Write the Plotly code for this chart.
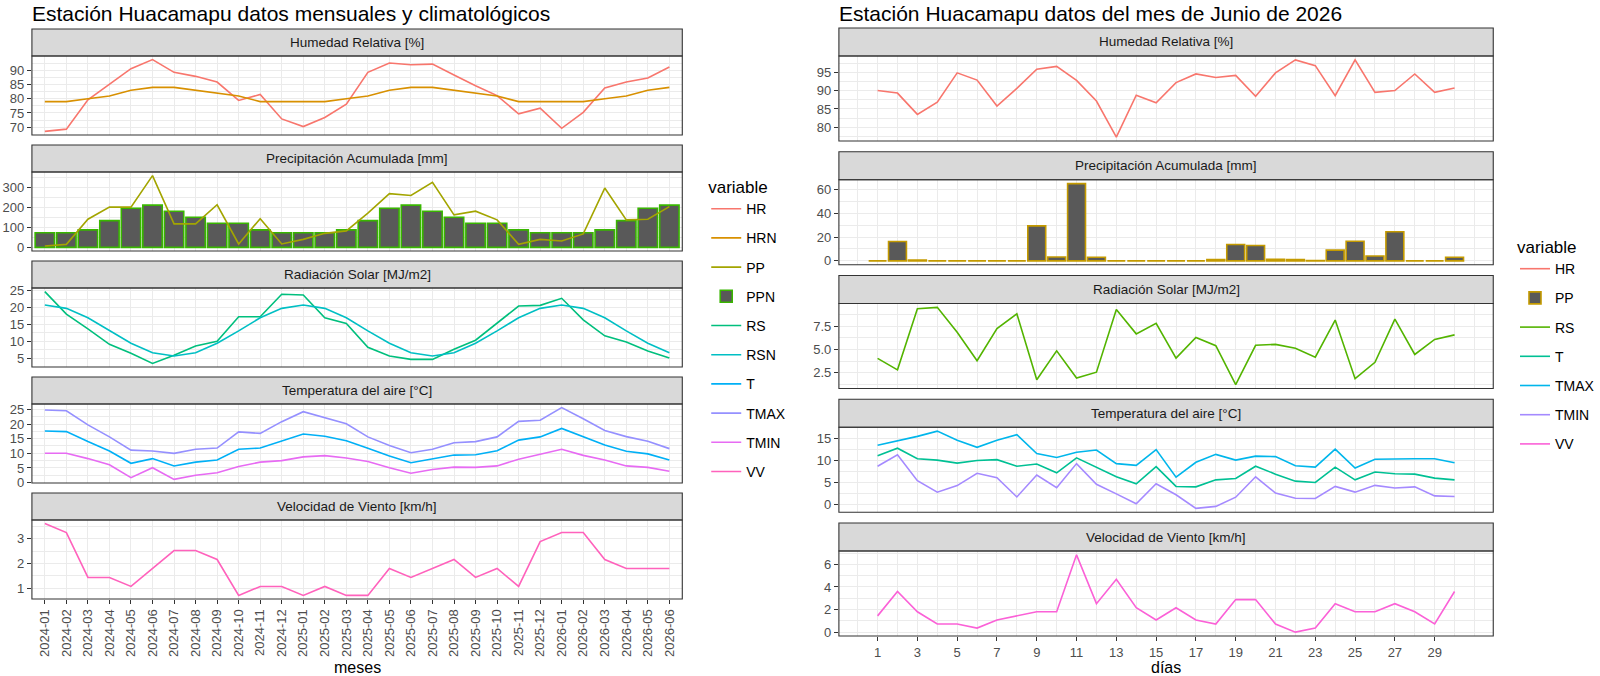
import plotly.graph_objects as go

W, H = 1600, 676

# ---------------- DATA: monthly / climatology ----------------
months = ["2024-01", "2024-02", "2024-03", "2024-04", "2024-05", "2024-06",
          "2024-07", "2024-08", "2024-09", "2024-10", "2024-11", "2024-12",
          "2025-01", "2025-02", "2025-03", "2025-04", "2025-05", "2025-06",
          "2025-07", "2025-08", "2025-09", "2025-10", "2025-11", "2025-12",
          "2026-01", "2026-02", "2026-03", "2026-04", "2026-05", "2026-06"]

HR_m = [68.5, 69.3, 79.6, 85.2, 90.6, 93.8, 89.3, 87.9, 85.9, 79.4, 81.5, 72.9,
        70.2, 73.4, 78.1, 89.3, 92.6, 92.0, 92.2, 88.4, 84.6, 81.1, 74.7, 76.7,
        69.6, 75.2, 83.8, 85.9, 87.3, 91.2]
HRN_m = [79, 79, 80, 81, 83, 84, 84, 83, 82, 81, 79, 79,
         79, 79, 80, 81, 83, 84, 84, 83, 82, 81, 79, 79,
         79, 79, 80, 81, 83, 84]
PP_m = [7, 15, 140, 200, 200, 357, 117, 117, 212, 17, 143, 17,
        40, 70, 82, 170, 267, 258, 323, 162, 180, 137, 15, 40,
        32, 67, 295, 137, 140, 203]
PPN_m = [73, 73, 87, 133, 195, 210, 180, 150, 120, 120, 87, 73,
         73, 73, 87, 133, 195, 210, 180, 150, 120, 120, 87, 73,
         73, 73, 87, 133, 195, 210]
RS_m = [24.8, 18.1, 13.7, 9.1, 6.4, 3.4, 5.8, 8.6, 10.0, 17.3, 17.3, 24.0,
        23.8, 17.0, 15.3, 8.2, 5.6, 4.6, 4.6, 7.6, 10.3, 15.4, 20.5, 20.7,
        22.8, 16.4, 11.6, 9.8, 7.1, 5.0]
RSN_m = [20.8, 19.8, 17.0, 13.1, 9.4, 6.6, 5.6, 6.6, 9.4, 13.1, 17.0, 19.8,
         20.8, 19.8, 17.0, 13.1, 9.4, 6.6, 5.6, 6.6, 9.4, 13.1, 17.0, 19.8,
         20.8, 19.8, 17.0, 13.1, 9.4, 6.6]
T_m = [17.6, 17.4, 14.0, 10.8, 6.6, 8.2, 5.7, 7.0, 7.7, 11.4, 11.8, 14.2,
       16.6, 15.8, 14.3, 11.7, 9.1, 6.8, 8.2, 9.4, 9.5, 10.9, 14.5, 15.6,
       18.5, 15.6, 12.8, 10.7, 9.8, 7.7]
TMAX_m = [24.8, 24.5, 19.7, 15.6, 11.1, 10.8, 10.0, 11.4, 11.8, 17.3, 16.8, 20.8,
          24.2, 22.2, 20.1, 15.6, 12.7, 10.2, 11.4, 13.6, 14.0, 15.6, 20.9, 21.3,
          25.6, 21.8, 17.8, 15.7, 14.1, 11.6]
TMIN_m = [10.0, 10.0, 8.2, 6.1, 1.7, 5.1, 1.1, 2.5, 3.4, 5.5, 7.0, 7.5,
          8.8, 9.2, 8.4, 7.2, 5.1, 3.2, 4.5, 5.3, 5.2, 5.7, 8.0, 9.7,
          11.4, 9.3, 7.7, 5.7, 5.2, 3.9]
VV_m = [3.6, 3.24, 1.44, 1.44, 1.08, 1.8, 2.52, 2.52, 2.16, 0.72, 1.08, 1.08,
        0.72, 1.08, 0.72, 0.72, 1.8, 1.44, 1.8, 2.16, 1.44, 1.8, 1.08, 2.88,
        3.24, 3.24, 2.16, 1.8, 1.8, 1.8]

# ---------------- DATA: daily June 2026 ----------------
days = list(range(1, 31))
HR_d = [90.1, 89.4, 83.5, 86.9, 95.0, 93.0, 85.8, 90.7, 96.0, 96.8,
        92.9, 87.2, 77.2, 88.8, 86.7, 92.3, 94.7, 93.7, 94.3, 88.5,
        95.0, 98.6, 97.0, 88.7, 98.6, 89.6, 90.1, 94.7, 89.6, 90.8]
PP_d = [0, 16.2, 0.8, 0, 0, 0, 0, 0, 29.3, 3.3,
        64.7, 3.0, 0, 0, 0, 0, 0, 1.1, 13.7, 12.9,
        1.4, 1.1, 0.3, 9.0, 16.4, 4.1, 24.4, 0, 0, 3.0]
RS_d = [4.05, 2.82, 9.40, 9.54, 6.87, 3.80, 7.25, 8.84, 1.76, 4.86,
        1.94, 2.57, 9.30, 6.69, 7.82, 4.08, 6.30, 5.42, 1.23, 5.46,
        5.56, 5.14, 4.19, 8.17, 1.87, 3.63, 8.27, 4.47, 6.09, 6.58]
T_d = [11.1, 12.8, 10.4, 10.1, 9.4, 10.0, 10.2, 8.7, 9.2, 7.2,
       10.6, 8.4, 6.3, 4.7, 8.6, 4.1, 4.0, 5.6, 5.9, 8.7,
       6.9, 5.3, 5.0, 8.5, 5.6, 7.4, 7.0, 6.9, 6.0, 5.6]
TMAX_d = [13.5, 14.5, 15.5, 16.7, 14.6, 13.0, 14.6, 15.9, 11.6, 10.7,
          11.9, 12.4, 9.3, 8.9, 12.5, 6.2, 9.6, 11.4, 10.1, 11.0,
          10.9, 8.8, 8.5, 12.6, 8.3, 10.3, 10.4, 10.4, 10.4, 9.5]
TMIN_d = [8.7, 11.3, 5.4, 2.8, 4.3, 7.1, 6.1, 1.7, 6.7, 3.8,
          9.3, 4.6, 2.4, 0.15, 4.7, 2.2, -0.9, -0.45, 1.65, 6.3,
          2.6, 1.4, 1.35, 4.1, 2.8, 4.35, 3.75, 4.0, 1.95, 1.8]
VV_d = [1.44, 3.6, 1.8, 0.72, 0.72, 0.36, 1.08, 1.44, 1.8, 1.8,
        6.84, 2.52, 4.68, 2.16, 1.08, 2.16, 1.08, 0.72, 2.88, 2.88,
        0.72, 0.0, 0.36, 2.52, 1.8, 1.8, 2.52, 1.8, 0.72, 3.6]

# tick labels
day_ticks = list(range(1, 30, 2))

facet_titles = ["Humedad Relativa [%]", "Precipitación Acumulada [mm]",
                "Radiación Solar [MJ/m2]", "Temperatura del aire [°C]",
                "Velocidad de Viento [km/h]"]
title_left = "Estación Huacamapu datos mensuales y climatológicos"
title_right = "Estación Huacamapu datos del mes de Junio de 2026"

left_ticks = [[70, 75, 80, 85, 90], [0, 100, 200, 300], [5, 10, 15, 20, 25],
              [0, 5, 10, 15, 20, 25], [1, 2, 3]]
right_ticks = [[80, 85, 90, 95], [0, 20, 40, 60], [2.5, 5.0, 7.5],
               [0, 5, 10, 15], [0, 2, 4, 6]]
right_ticktext = [None, None, ["2.5", "5.0", "7.5"], None, None]

# ggplot hue colours
CL = {"HR": "#F8766D", "HRN": "#D89000", "PP": "#A3A500", "PPN": "#39B600",
      "RS": "#00BF7D", "RSN": "#00BFC4", "T": "#00B0F6", "TMAX": "#9590FF",
      "TMIN": "#E76BF3", "VV": "#FF62BC"}
CR = {"HR": "#F8766D", "PP": "#C49A00", "RS": "#53B400", "T": "#00C094",
      "TMAX": "#00B6EB", "TMIN": "#A58AFF", "VV": "#FB61D7"}

FONT = "Liberation Sans, Arial, sans-serif"
GRID = "#EBEBEB"
BORDER = "#333333"
TICKC = "#4D4D4D"
TICK_SIZE = 13

# ---------------- layout geometry (pixels) ----------------
LX = (32, 684)
RX = (841, 1497)
L_strip_top = [29 + 116 * i for i in range(5)]
L_strip_h, L_panel_h = 27, 79
R_strip_top = [28 + 123.75 * i for i in range(5)]
R_strip_h, R_panel_h = 28, 85


def fx(p):
    return p / W


def fy(p):
    return 1 - p / H


def expand(vals, include_zero=False, frac=0.05):
    lo, hi = min(vals), max(vals)
    if include_zero:
        lo = min(lo, 0)
    d = (hi - lo) * frac
    return [lo - d, hi + d]


def minor_vals(ticks, rng):
    step = ticks[1] - ticks[0]
    out = []
    v = ticks[0] - step * 3
    while v <= rng[1] + step:
        m = v + step / 2
        if rng[0] <= m <= rng[1]:
            out.append(m)
        if rng[0] <= v <= rng[1]:
            out.append(v)
        v += step
    return out


fig = go.Figure()


def add_line(x, y, name, color, k, legend, rank, show=True):
    fig.add_trace(go.Scatter(
        x=x, y=y, mode="lines", name=name, line=dict(color=color, width=1.6),
        xaxis="x%d" % k, yaxis="y%d" % k, legend=legend, legendgroup=legend + name,
        legendrank=rank, showlegend=show))


# ---------------- traces: left ----------------
add_line(months, HR_m, "HR", CL["HR"], 1, "legend", 1)
add_line(months, HRN_m, "HRN", CL["HRN"], 1, "legend", 2)
fig.add_trace(go.Bar(x=months, y=PPN_m, name="PPN", width=0.9,
                     marker=dict(color="#595959", line=dict(color=CL["PPN"], width=1.6)),
                     xaxis="x2", yaxis="y2", legend="legend", legendgroup="legendPPN",
                     legendrank=4))
add_line(months, PP_m, "PP", CL["PP"], 2, "legend", 3)
add_line(months, RS_m, "RS", CL["RS"], 3, "legend", 5)
add_line(months, RSN_m, "RSN", CL["RSN"], 3, "legend", 6)
add_line(months, T_m, "T", CL["T"], 4, "legend", 7)
add_line(months, TMAX_m, "TMAX", CL["TMAX"], 4, "legend", 8)
add_line(months, TMIN_m, "TMIN", CL["TMIN"], 4, "legend", 9)
add_line(months, VV_m, "VV", CL["VV"], 5, "legend", 10)

# ---------------- traces: right ----------------
add_line(days, HR_d, "HR", CR["HR"], 6, "legend2", 1)
fig.add_trace(go.Bar(x=days, y=PP_d, name="PP", width=0.9,
                     marker=dict(color="#595959", line=dict(color=CR["PP"], width=1.6)),
                     xaxis="x7", yaxis="y7", legend="legend2", legendgroup="legend2PP",
                     legendrank=2))
add_line(days, RS_d, "RS", CR["RS"], 8, "legend2", 3)
add_line(days, T_d, "T", CR["T"], 9, "legend2", 4)
add_line(days, TMAX_d, "TMAX", CR["TMAX"], 9, "legend2", 5)
add_line(days, TMIN_d, "TMIN", CR["TMIN"], 9, "legend2", 6)
add_line(days, VV_d, "VV", CR["VV"], 10, "legend2", 7)

# ---------------- axes ----------------
left_data = [HR_m + HRN_m, PP_m + PPN_m, RS_m + RSN_m, T_m + TMAX_m + TMIN_m, VV_m]
right_data = [HR_d, PP_d, RS_d, T_d + TMAX_d + TMIN_d, VV_d]

shapes = []
annotations = []
layout = {}

span = max(days) - min(days) + 0.9
xr_right = [min(days) - 0.45 - span * 0.05, max(days) + 0.45 + span * 0.05]

for side in range(2):
    for i in range(5):
        k = i + 1 + side * 5
        if side == 0:
            x0, x1 = LX
            st = L_strip_top[i]
            sh, ph = L_strip_h, L_panel_h
            data = left_data[i]
            ticks = left_ticks[i]
            ttext = None
        else:
            x0, x1 = RX
            st = R_strip_top[i]
            sh, ph = R_strip_h, R_panel_h
            data = right_data[i]
            ticks = right_ticks[i]
            ttext = right_ticktext[i]
        zero = (i == 1)
        ptop = st + sh
        pbot = ptop + ph
        yr = expand(data, include_zero=zero)
        bottom = (i == 4)

        if side == 0:
            xa = dict(type="category", categoryorder="array", categoryarray=months,
                      range=[-0.6, len(months) - 0.4],
                      showgrid=True, gridcolor=GRID, gridwidth=1.1,
                      tickangle=-90,
                      tickfont=dict(size=TICK_SIZE, color=TICKC, family=FONT),
                      showticklabels=bottom, ticks="outside" if bottom else "",
                      ticklen=4, tickcolor=BORDER, tickwidth=1)
        else:
            xa = dict(type="linear", range=xr_right, tickmode="array",
                      tickvals=day_ticks, showgrid=True, gridcolor=GRID, gridwidth=1.1,
                      minor=dict(tickmode="array",
                                 tickvals=list(range(0, 32)),
                                 showgrid=True, gridcolor=GRID, gridwidth=0.55),
                      tickfont=dict(size=TICK_SIZE, color=TICKC, family=FONT),
                      showticklabels=bottom, ticks="outside" if bottom else "",
                      ticklen=4, tickcolor=BORDER, tickwidth=1)
        xa.update(domain=[fx(x0), fx(x1)], anchor="y%d" % k, zeroline=False,
                  showline=False, automargin=False, fixedrange=True)
        ya = dict(domain=[fy(pbot), fy(ptop)], anchor="x%d" % k, range=yr,
                  tickmode="array", tickvals=ticks,
                  ticktext=ttext if ttext else [str(t) for t in ticks],
                  showgrid=True, gridcolor=GRID, gridwidth=1.1,
                  minor=dict(tickmode="array", tickvals=minor_vals(ticks, yr),
                             showgrid=True, gridcolor=GRID, gridwidth=0.55),
                  ticks="outside", ticklen=4, tickcolor=BORDER, tickwidth=1,
                  tickfont=dict(size=TICK_SIZE, color=TICKC, family=FONT),
                  zeroline=False, showline=False, automargin=False, fixedrange=True)
        layout["xaxis%d" % k if k > 1 else "xaxis"] = xa
        layout["yaxis%d" % k if k > 1 else "yaxis"] = ya

        # strip
        shapes.append(dict(type="rect", xref="paper", yref="paper",
                           x0=fx(x0), x1=fx(x1), y0=fy(ptop), y1=fy(st),
                           fillcolor="#D9D9D9", line=dict(color=BORDER, width=1.1),
                           layer="above"))
        annotations.append(dict(text=facet_titles[i], xref="paper", yref="paper",
                                x=fx((x0 + x1) / 2), y=fy(st + sh / 2),
                                xanchor="center", yanchor="middle", showarrow=False,
                                font=dict(size=13.5, color="#1A1A1A", family=FONT)))
        # panel border
        shapes.append(dict(type="rect", xref="paper", yref="paper",
                           x0=fx(x0), x1=fx(x1), y0=fy(pbot), y1=fy(ptop),
                           fillcolor="rgba(0,0,0,0)", line=dict(color=BORDER, width=1.1),
                           layer="above"))

# titles
annotations.append(dict(text=title_left, xref="paper", yref="paper",
                        x=fx(LX[0] - 2), y=1, xanchor="left", yanchor="top",
                        showarrow=False, font=dict(size=21, color="black", family=FONT)))
annotations.append(dict(text=title_right, xref="paper", yref="paper",
                        x=fx(RX[0] - 2), y=1, xanchor="left", yanchor="top",
                        showarrow=False, font=dict(size=21, color="black", family=FONT)))
annotations.append(dict(text="meses", xref="paper", yref="paper",
                        x=fx((LX[0] + LX[1]) / 2), y=fy(667), xanchor="center",
                        yanchor="middle", showarrow=False,
                        font=dict(size=16, color="black", family=FONT)))
annotations.append(dict(text="días", xref="paper", yref="paper",
                        x=fx((RX[0] + RX[1]) / 2), y=fy(667), xanchor="center",
                        yanchor="middle", showarrow=False,
                        font=dict(size=16, color="black", family=FONT)))

leg_common = dict(bgcolor="rgba(0,0,0,0)", borderwidth=0,
                  font=dict(size=14, color="black", family=FONT),
                  tracegroupgap=8, itemwidth=30,
                  title=dict(text="variable", font=dict(size=17, color="black", family=FONT)),
                  yanchor="top")
layout["legend"] = dict(leg_common, x=fx(708), y=fy(171), xanchor="left")
layout["legend2"] = dict(leg_common, x=fx(1519), y=fy(231), xanchor="left")

fig.update_layout(**layout)
fig.update_layout(width=W, height=H, margin=dict(l=0, r=0, t=0, b=0),
                  paper_bgcolor="white", plot_bgcolor="white",
                  shapes=shapes, annotations=annotations, barmode="overlay",
                  font=dict(family=FONT), showlegend=True)

fig.write_html("out.html", config={"displayModeBar": False},
               post_script="document.body.style.margin='0';"
                           "document.body.style.overflow='hidden';")
